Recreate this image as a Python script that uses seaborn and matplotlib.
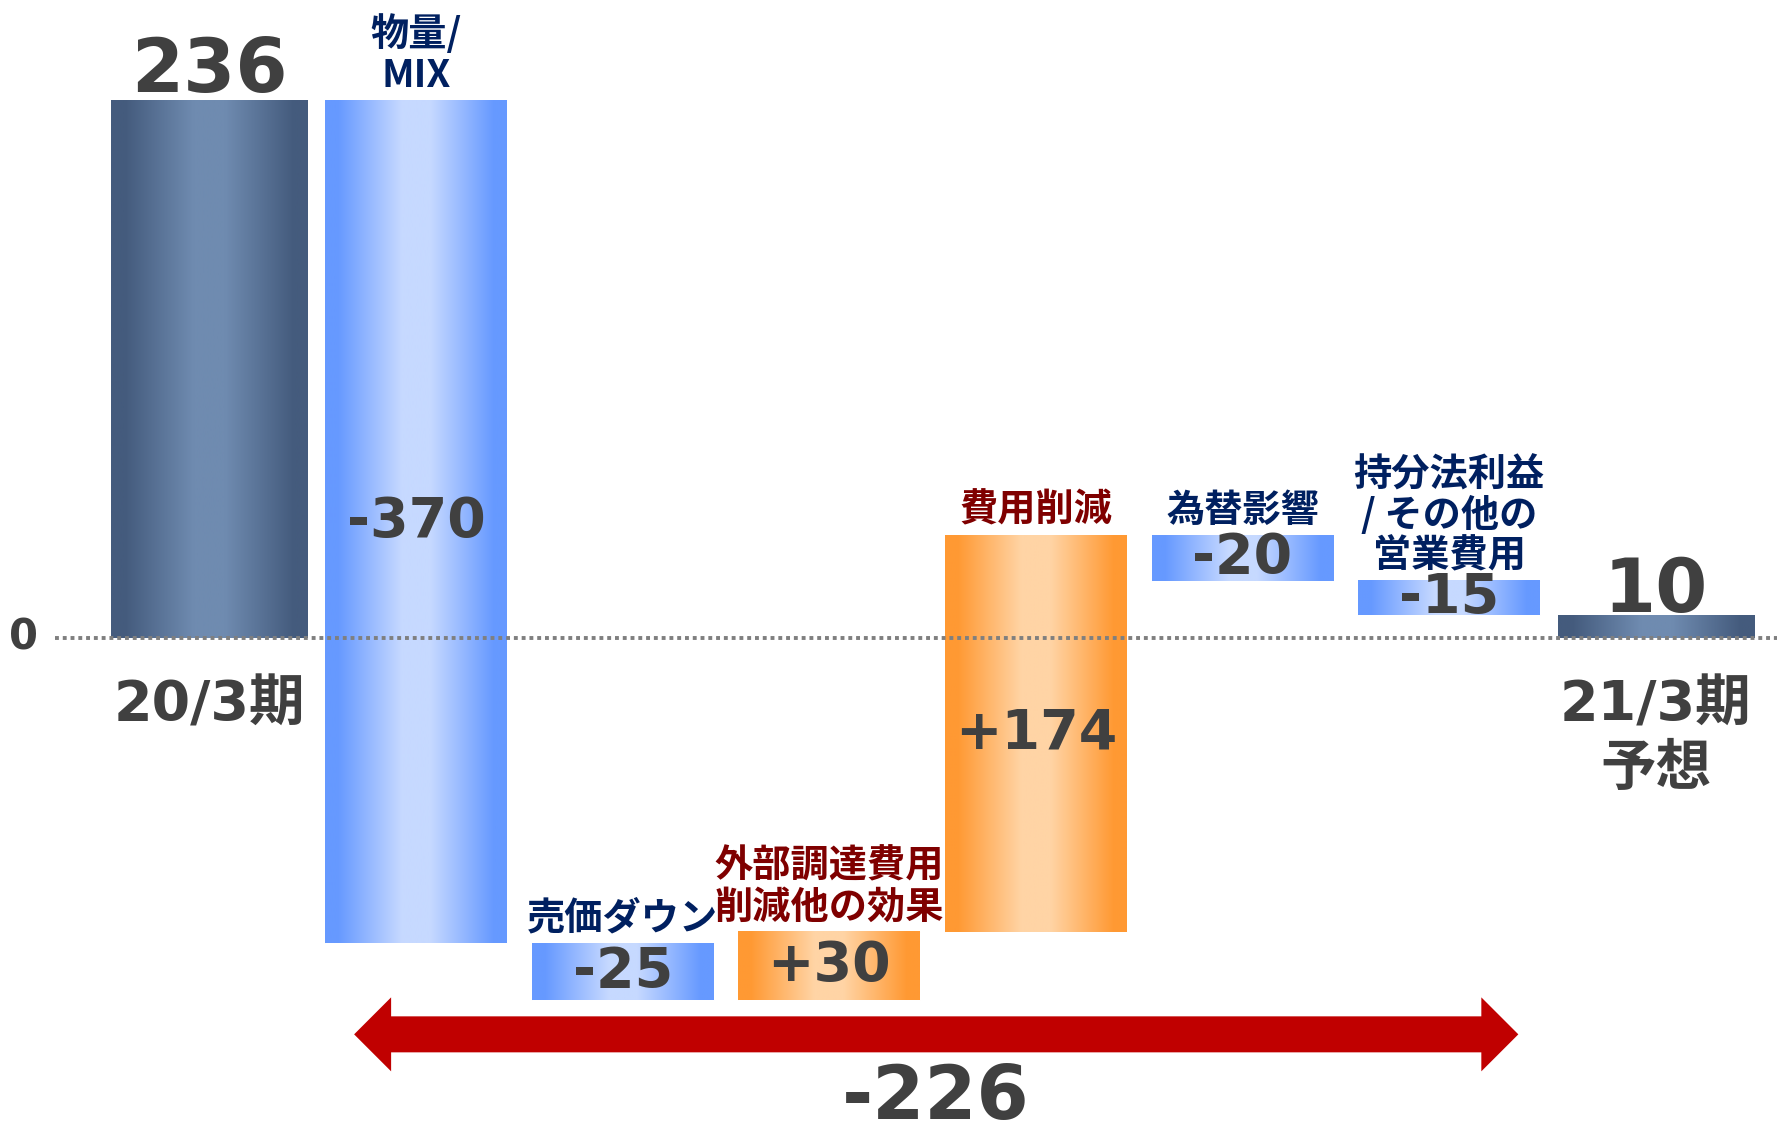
import numpy as np
import pandas as pd
import matplotlib
matplotlib.use('Agg')
import matplotlib.pyplot as plt
import matplotlib.colors as mcolors
from matplotlib.patches import Polygon
import seaborn as sns

# waterfall steps
steps = ['20/3期', '物量/\nMIX', '売価ダウン', '外部調達費用\n削減他の効果',
         '費用削減', '為替影響', '持分法利益\n/ その他の\n営業費用', '21/3期\n予想']
values = [236, -370, -25, 30, 174, -20, -15, 10]
kinds = ['total', 'minus', 'minus', 'plus', 'plus', 'minus', 'minus', 'total']
total_change = -226

# (edge, centre) colours of the shaded bars
shades = {
    'total': ('#445B7D', '#6F8BB0'),
    'minus': ('#6699FF', '#C6D9FF'),
    'plus': ('#FF9933', '#FFD4A5'),
}
label_colors = {'minus': '#002060', 'plus': '#7F0000'}
DARK = '#404040'

# running bottoms for the floating bars
bottoms = []
level = 0
for v, k in zip(values, kinds):
    if k == 'total':
        bottoms.append(0)
        level = v
    else:
        bottoms.append(level)
        level += v

df = pd.DataFrame({'step': steps, 'value': values, 'bottom': bottoms, 'kind': kinds})


def gradient(edge, centre, n=256):
    # dark edges, light middle - like the PowerPoint bars
    stops = [0, 0.07, 0.42, 0.58, 0.93, 1]
    cols = [edge, edge, centre, centre, edge, edge]
    rgb = np.array([mcolors.to_rgb(c) for c in cols])
    t = np.linspace(0, 1, n)
    img = np.stack([np.interp(t, stops, rgb[:, i]) for i in range(3)], axis=-1)
    return img[np.newaxis, :, :]


sns.set_style('white')
plt.rcParams['font.family'] = ['DejaVu Sans', 'Noto Sans CJK JP']
CJK = ['Noto Sans CJK JP', 'DejaVu Sans']

W, H = 1777, 1133
fig = plt.figure(figsize=(W / 100, H / 100), dpi=100)
ax = fig.add_axes([0, 0, 1, 1])

sns.barplot(data=df, x='step', y='value', hue='step',
            palette=[shades[k][0] for k in kinds], saturation=1,
            width=0.87, legend=False, ax=ax)

XLIM = (-1.014, 7.587)
YLIM = (-217.3, 280)

for patch, (i, row) in zip(ax.patches, df.iterrows()):
    w = 0.95 if row.kind == 'total' else 0.88
    cx = patch.get_x() + patch.get_width() / 2
    patch.set_x(cx - w / 2)
    patch.set_width(w)
    patch.set_y(row.bottom)
    patch.set_height(row.value)
    ax.imshow(gradient(*shades[row.kind]),
              extent=(cx - w / 2, cx + w / 2, row.bottom, row.bottom + row.value),
              aspect='auto', interpolation='bilinear', zorder=patch.get_zorder() + 0.1)

    top = max(row.bottom, row.bottom + row.value)
    mid = row.bottom + row.value / 2
    if row.kind == 'total':
        ax.annotate(f'{row.value}', (cx, top), xytext=(0, 6 if i == 0 else 2),
                    textcoords='offset points', ha='center', va='baseline',
                    fontsize=54, fontweight='bold', color=DARK)
        ax.annotate(row.step, (cx, 0), xytext=(0, -29), textcoords='offset points',
                    ha='center', va='top', fontsize=40, fontweight='bold',
                    color=DARK, linespacing=1.25)
    else:
        ax.text(cx, mid, f'{row.value:+d}', ha='center', va='center',
                fontsize=40, fontweight='bold', color=DARK, zorder=5)
        ax.annotate(row.step, (cx, top), xytext=(0, 4), textcoords='offset points',
                    ha='center', va='bottom', fontsize=27.5, fontweight='bold',
                    color=label_colors[row.kind], family=CJK, linespacing=1.05)

# dotted zero line and its label
ax.plot([-0.75, XLIM[1]], [0, 0], ls=(0, (1, 1)), lw=2.8, color='#7F7F7F',
        solid_capstyle='butt', dash_capstyle='butt', zorder=6)
ax.text(-0.9, 0, '0', ha='center', va='center', fontsize=30,
        fontweight='bold', color=DARK)

# red double-headed arrow for the total change
sx = W / (XLIM[1] - XLIM[0])
sy = H / (YLIM[1] - YLIM[0])
a_left, a_right, a_y = 0.7, 6.335, -174
hl, hw, sw = 37 / sx, 37 / sy, 18 / sy
arrow = Polygon([
    (a_left, a_y), (a_left + hl, a_y + hw), (a_left + hl, a_y + sw),
    (a_right - hl, a_y + sw), (a_right - hl, a_y + hw), (a_right, a_y),
    (a_right - hl, a_y - hw), (a_right - hl, a_y - sw), (a_left + hl, a_y - sw),
    (a_left + hl, a_y - hw)], closed=True, facecolor='#C00000', edgecolor='none')
ax.add_patch(arrow)
ax.text((a_left + a_right) / 2, -202, f'{total_change}', ha='center', va='center',
        fontsize=54, fontweight='bold', color=DARK)

ax.set_xlim(*XLIM)
ax.set_ylim(*YLIM)
ax.axis('off')

fig.savefig('out.png', dpi=100)
